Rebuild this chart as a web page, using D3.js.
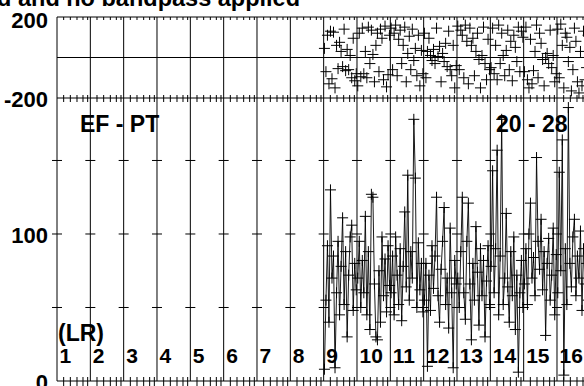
<!DOCTYPE html>
<html><head><meta charset="utf-8">
<script src="https://cdn.jsdelivr.net/npm/d3@7"></script>
<style>
html,body{margin:0;padding:0;background:#fff;overflow:hidden}
text{font-family:"Liberation Sans",Arial,Helvetica,sans-serif;font-weight:bold;fill:#000}
</style>
</head><body>
<svg id="c" width="584" height="386"></svg>
<script>
// ---- data ----
const titleText = "d and no bandpass applied";
const baselineLabels = ["1","2","3","4","5","6","7","8","9","10","11","12","13","14","15","16"];
const polLabel = "(LR)";
const leftAnnot = "EF - PT";
const rightAnnot = "20 - 28";
const phaseTickLabels = [200, -200];
const ampTickLabels = [100, 0];
const ampMinorTicks = [50, 100, 150];

const amp9  = [8, 55, 92, 40, 130, 70, 85, 9, 60, 95, 45, 78, 111, 52, 88, 30, 72, 98, 106, 48, 80, 62];
const amp10 = [70, 95, 50, 82, 60, 112, 45, 88, 35, 127, 125, 66, 30, 28, 75, 40, 98, 58, 83, 47, 92, 65];
const amp11 = [60, 85, 45, 98, 72, 52, 90, 41, 78, 115, 64, 140, 55, 88, 70, 178, 138, 50, 94, 62, 80, 47];
const amp12 = [55, 80, 10, 72, 48, 92, 63, 85, 125, 58, 40, 76, 95, 118, 52, 70, 36, 104, 60, 9, 82, 66];
const amp13 = [70, 50, 88, 125, 60, 42, 95, 121, 66, 28, 80, 55, 105, 74, 38, 90, 58, 82, 30, 68, 92, 52];
const amp14 = [78, 143, 60, 90, 157, 45, 85, 178, 52, 70, 114, 64, 40, 88, 58, 98, 35, 72, 6, 60, 82, 50];
const amp15 = [66, 90, 52, 100, 121, 70, 84, 58, 152, 95, 76, 110, 62, 88, 31, 80, 97, 55, 72, 104, 45, 86];
const amp16 = [60, 142, 75, 164, 4, 90, 52, 186, 80, 64, 98, 110, 58, 85, 70, 102, 48, 90, 66, 80, 55, 74];

const phase9  = [45, -70, 110, -130, 130, -105, 125, -150, 60, -55, 75, 30, -45, 140, -65, 40, -60, 10, -100, 95, -115, -80];
const phase10 = [-140, 120, -95, 145, -80, 30, -100, 150, -30, 135, 15, -120, 60, 120, -70, 140, 95, -110, 155, -145, -85, 110];
const phase11 = [145, -60, 120, 160, -90, 90, 135, -30, 60, 150, -120, 20, 105, -60, 140, -15, 45, -90, 110, -140, 35, -80];
const phase12 = [120, -100, 30, 95, 10, -15, 40, -30, 145, 5, 55, -120, 20, -20, 70, -45, 130, -60, -90, 60, -150, -40];
const phase13 = [155, -60, 135, 110, -100, 160, 80, -130, 145, 60, 95, -90, 30, 120, -10, -150, 10, 150, -30, -110, 90, -60];
const phase14 = [-50, 145, -80, 60, -110, 160, -30, 120, 10, -90, 35, 135, -60, 80, -115, 110, 50, -20, 150, -70, 130, 100];
const phase15 = [-70, 150, -110, -150, 90, -130, -65, 30, 160, -100, 120, 70, -10, -140, 0, 20, -30, 135, -50, 10, -120, -80];
const phase16 = [140, -100, 165, 60, -150, 120, 100, -20, 50, -165, -60, 145, 80, -120, -175, 30, -140, 130, -110, -50, 110, -90];

const dataBaselines = [9, 10, 11, 12, 13, 14, 15, 16];
const ampSeries = [amp9, amp10, amp11, amp12, amp13, amp14, amp15, amp16];
const phaseSeries = [phase9, phase10, phase11, phase12, phase13, phase14, phase15, phase16];

// ---- layout ----
const svg = d3.select("#c");
const x = d3.scaleLinear().domain([1, 17]).range([57, 590.33]);
const yP = d3.scaleLinear().domain([-200, 200]).range([98, 17]);
const yA = d3.scaleLinear().domain([0, 192.5]).range([381, 98]);
const FONT_AX = 22, FONT_AN = 23, FONT_BL = 21;

// title
svg.append("text").attr("x", 300).attr("y", 6).attr("text-anchor", "end")
  .style("font-size", "23.5px").text(titleText);

// frame lines
const g = svg.append("g").attr("stroke", "#000").attr("stroke-width", 1).attr("fill", "none");
g.append("line").attr("x1", x(1)).attr("x2", x(17)).attr("y1", yP(200)).attr("y2", yP(200));
g.append("line").attr("x1", x(1)).attr("x2", x(17)).attr("y1", yP(0)).attr("y2", yP(0));
g.append("line").attr("x1", x(1)).attr("x2", x(17)).attr("y1", yP(-200)).attr("y2", yP(-200));
g.append("line").attr("x1", x(1)).attr("x2", x(17)).attr("y1", yA(0)).attr("y2", yA(0));
d3.range(1, 18).forEach(k => {
  g.append("line").attr("x1", x(k)).attr("x2", x(k)).attr("y1", yP(200)).attr("y2", yA(0));
  ampMinorTicks.forEach(v => {
    g.append("line").attr("x1", x(k) - 5).attr("x2", x(k) + 5).attr("y1", yA(v)).attr("y2", yA(v));
  });
});

// minor time ticks
const tickFr = [0.2, 0.4, 0.6, 0.78, 0.92];
const minor = [];
d3.range(1, 17).forEach(k => tickFr.forEach(f => minor.push(k + f)));
minor.forEach(v => {
  g.append("line").attr("x1", x(v)).attr("x2", x(v)).attr("y1", yP(200)).attr("y2", yP(200) + 3);
  g.append("line").attr("x1", x(v)).attr("x2", x(v)).attr("y1", yP(-200) - 3).attr("y2", yP(-200) + 4);
  g.append("line").attr("x1", x(v)).attr("x2", x(v)).attr("y1", yA(0) - 4).attr("y2", yA(0) + 5);
});

// y-axis labels
const axP = d3.axisLeft(yP).tickValues(phaseTickLabels).tickSize(0).tickPadding(9).tickFormat(d => String(d));
const axA = d3.axisLeft(yA).tickValues(ampTickLabels).tickSize(0).tickPadding(9).tickFormat(d => String(d));
[axP, axA].forEach(ax => {
  const ga = svg.append("g").attr("transform", `translate(${x(1)},1)`).call(ax);
  ga.select(".domain").remove();
  ga.selectAll("text").style("font-size", FONT_AX + "px").style("font-family", null).attr("fill", "#000");
});
svg.selectAll(".tick text").filter(d => d === 200).attr("dy", "0.42em");

// annotations
svg.append("text").attr("x", 80).attr("y", 132).style("font-size", FONT_AN + "px").text(leftAnnot);
svg.append("text").attr("x", 496).attr("y", 132).style("font-size", FONT_AN + "px").text(rightAnnot);
svg.append("text").attr("x", 58).attr("y", 341).style("font-size", FONT_AN + "px").text(polLabel);
baselineLabels.forEach((lab, i) => {
  svg.append("text").attr("x", x(i + 1) + 2.5).attr("y", 363).style("font-size", FONT_BL + "px").text(lab);
});

// data
const cross = (sel, px, py) => {
  sel.append("line").attr("x1", px - 5.5).attr("x2", px + 5.5).attr("y1", py).attr("y2", py);
  sel.append("line").attr("x1", px).attr("x2", px).attr("y1", py - 5.5).attr("y2", py + 5.5);
};
const dg = svg.append("g").attr("stroke", "#000").attr("stroke-width", 1).attr("fill", "none");
dataBaselines.forEach((b, si) => {
  const amps = ampSeries[si], phs = phaseSeries[si];
  const n = amps.length;
  const pts = amps.map((v, i) => [x(b + (i + 0.5) / n), yA(v)]);
  dg.append("path").attr("d", d3.line()(pts)).attr("stroke-width", 0.9);
  pts.forEach(p => cross(dg, p[0], p[1]));
  phs.forEach((v, i) => cross(dg, x(b + (i + 0.5) / phs.length), yP(v)));
});
</script>
</body></html>
